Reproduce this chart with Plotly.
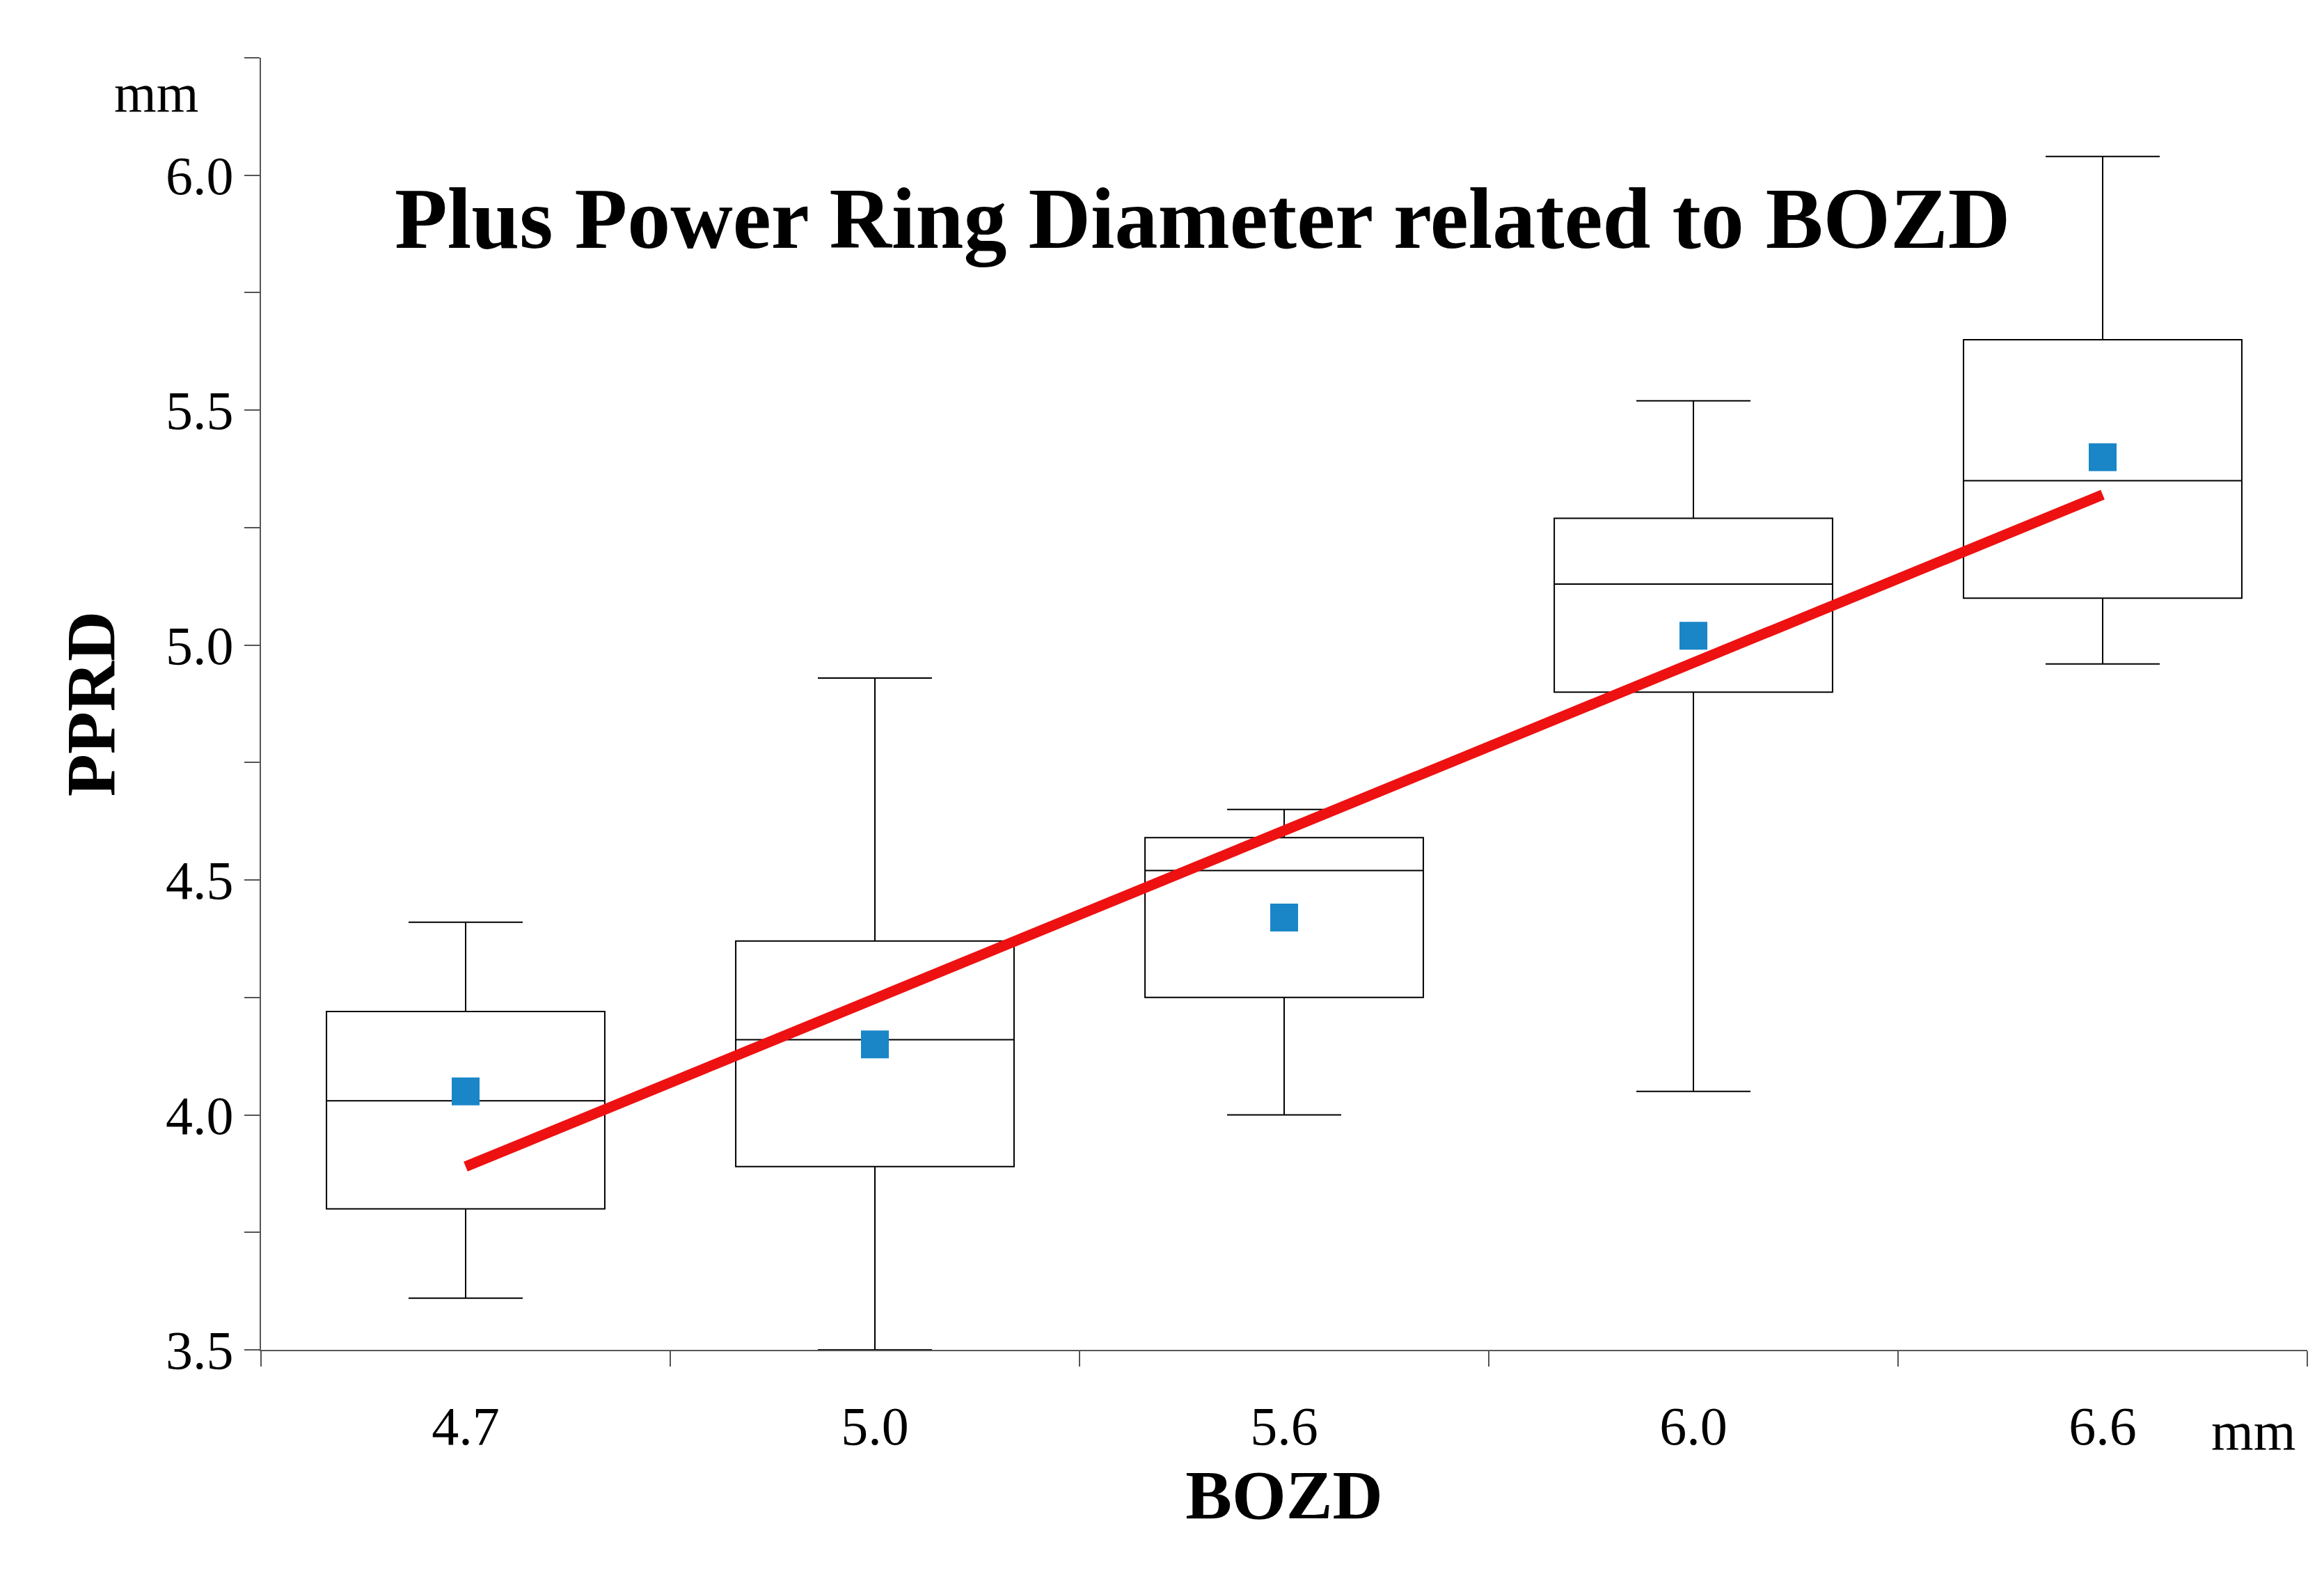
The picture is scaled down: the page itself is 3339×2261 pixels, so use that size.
import plotly.graph_objects as go

# BOZD groups (mm)
categories = ["4.7", "5.0", "5.6", "6.0", "6.6"]
lower_fence = [3.61, 3.50, 4.00, 4.05, 4.96]
q1 = [3.80, 3.89, 4.25, 4.90, 5.10]
median = [4.03, 4.16, 4.52, 5.13, 5.35]
q3 = [4.22, 4.37, 4.59, 5.27, 5.65]
upper_fence = [4.41, 4.93, 4.65, 5.52, 6.04]
means = [4.05, 4.15, 4.42, 5.02, 5.40]
trend = [3.89, 5.32]  # fitted line at first and last group

xs = list(range(len(categories)))
font = "Liberation Serif"

fig = go.Figure()
fig.add_trace(go.Box(
    x=xs, q1=q1, median=median, q3=q3,
    lowerfence=lower_fence, upperfence=upper_fence,
    width=0.68, whiskerwidth=0.41,
    fillcolor="white", line=dict(color="black", width=2),
    boxpoints=False, hoverinfo="skip",
))
fig.add_trace(go.Scatter(
    x=[xs[0], xs[-1]], y=trend, mode="lines",
    line=dict(color="#ee1111", width=15),
))
fig.add_trace(go.Scatter(
    x=xs, y=means, mode="markers",
    marker=dict(symbol="square", size=40, color="#1a86c8"),
))

fig.update_layout(
    width=3339, height=2261, showlegend=False,
    plot_bgcolor="white", paper_bgcolor="white",
    margin=dict(l=367, r=32, t=75, b=330),
    font=dict(family=font, size=78, color="black"),
)
fig.update_xaxes(
    range=[-0.5, 4.5], tickvals=xs, ticktext=categories, ticks="",
    minor=dict(tick0=0.5, dtick=1, ticks="outside", ticklen=22, tickcolor="#555", tickwidth=2),
    showline=True, linecolor="#555", linewidth=2, showgrid=False,
    ticklabelstandoff=40, tickfont=dict(size=78),
    title=dict(text="<b>BOZD</b>", font=dict(size=100), standoff=20),
)
fig.update_yaxes(
    range=[3.5, 6.25], tickvals=[3.5, 4.0, 4.5, 5.0, 5.5, 6.0],
    ticktext=["3.5", "4.0", "4.5", "5.0", "5.5", "6.0"],
    ticks="outside", ticklen=22, tickcolor="#555", tickwidth=2,
    minor=dict(dtick=0.25, ticks="outside", ticklen=22, tickcolor="#555", tickwidth=2),
    showline=True, linecolor="#555", linewidth=2, showgrid=False, zeroline=False,
    tickfont=dict(size=78),
    title=dict(text="<b>PPRD</b>", font=dict(size=100), standoff=40),
)
fig.add_annotation(text="<b>Plus Power Ring Diameter related to BOZD</b>",
                   xref="paper", yref="paper", x=0.46, y=0.875, yanchor="middle",
                   showarrow=False, font=dict(size=124))
fig.add_annotation(text="mm", xref="paper", yref="paper", x=-0.03, y=0.973,
                   xanchor="right", yanchor="middle", showarrow=False, font=dict(size=78))
fig.add_annotation(text="mm", xref="paper", yref="paper", x=0.995, y=-0.063,
                   xanchor="right", yanchor="middle", showarrow=False, font=dict(size=78))
fig.write_html("out.html")
